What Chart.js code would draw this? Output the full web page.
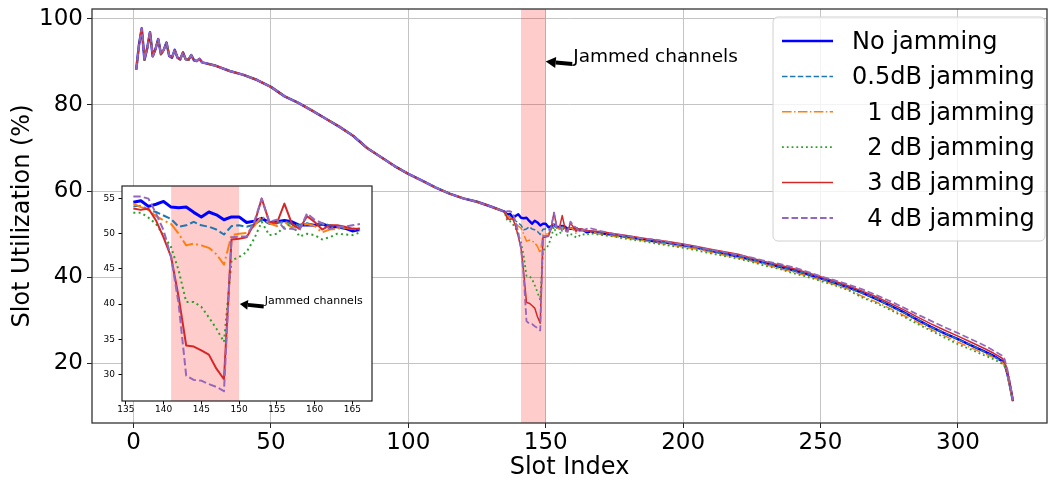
<!DOCTYPE html>
<html>
<head>
<meta charset="utf-8">
<script src="https://cdn.jsdelivr.net/npm/chart.js@4.4.0/dist/chart.umd.min.js"></script>
<style>
  body { margin: 0; background: #fff; }
  #wrap { position: relative; width: 1049px; height: 480px; }
  #mainChart { position: absolute; left: 0; top: 0; }
  #insetChart { position: absolute; left: 92px; top: 183px; }
</style>
</head>
<body>
<div id="wrap">
  <canvas id="mainChart" width="1049" height="480"></canvas>
  <canvas id="insetChart" width="285" height="235"></canvas>
</div>
<script>
// ---- data ----
// slots before the jammed window: all six curves sit on top of each other here
const headSlots = [1, 2, 3, 4, 5, 6, 7, 8, 9, 10, 11, 12, 13, 14, 15, 16, 17, 18, 19, 20, 21, 22, 23, 24, 25,
  30, 35, 40, 45, 50, 55, 60, 65, 70, 75, 80, 85, 90, 95, 100, 105, 110, 115, 120, 125, 130, 135];
const headUtil = [88.2, 94.0, 97.8, 90.5, 93.2, 96.9, 91.3, 93.0, 95.3, 91.8, 92.8, 94.5, 91.4, 91.0, 92.8, 91.0, 90.6, 92.2, 90.6, 90.5, 91.6, 90.4, 90.2, 90.7, 89.9,
  89.1, 87.9, 87.0, 85.8, 84.2, 82.0, 80.5, 78.7, 76.8, 74.9, 72.8, 70.0, 67.9, 65.8, 64.0, 62.4, 60.8, 59.4, 58.3, 57.5, 56.4, 55.2];

// zoomed window (also used in the main plot)
const insetSlots = [136, 137, 138, 139, 140, 141, 142, 143, 144, 145, 146, 147, 148, 149, 150, 151,
  152, 153, 154, 155, 156, 157, 158, 159, 160, 161, 162, 163, 164, 165, 166];
const insetNoJam = [54.5, 54.7, 53.9, 54.2, 54.6, 53.8, 53.7, 53.8, 53.05, 52.4, 53.1, 52.7, 52.0, 52.4, 52.4, 51.6,
  51.8, 52.2, 51.6, 51.7, 51.9, 51.7, 51.2, 51.3, 51.2, 51.4, 51.0, 51.0, 50.8, 50.4, 50.6];
const insetJam05 = [53.9, 54.0, 53.4, 53.1, 52.6, 52.1, 51.0, 51.2, 51.7, 51.2, 51.0, 50.6, 49.9, 51.1, 51.2, 51.0,
  51.3, 52.0, 51.4, 51.5, 51.8, 51.4, 51.2, 51.5, 51.2, 51.5, 51.2, 51.0, 50.8, 50.7, 50.7];
const insetJam1 = [54.3, 53.8, 53.4, 52.5, 51.9, 51.4, 50.0, 48.35, 48.6, 48.35, 48.0, 47.1, 45.6, 49.8, 50.0, 50.1,
  51.1, 52.5, 51.5, 51.1, 51.7, 50.9, 51.1, 51.4, 51.1, 50.2, 50.6, 50.7, 50.9, 50.7, 50.5];
const insetJam2 = [53.0, 53.0, 52.3, 51.4, 49.8, 48.1, 44.8, 40.3, 40.3, 39.6, 38.1, 36.5, 34.6, 46.2, 46.7, 47.4,
  49.3, 51.7, 49.8, 50.0, 51.0, 51.4, 49.6, 50.0, 49.8, 49.2, 49.5, 50.0, 49.9, 49.8, 50.2];
const insetJam3 = [53.6, 53.4, 53.6, 51.9, 49.5, 46.7, 41.0, 34.1, 33.95, 33.4, 32.8, 30.8, 29.3, 49.2, 49.3, 49.5,
  51.4, 55.0, 51.7, 51.5, 54.3, 51.4, 50.7, 52.5, 51.7, 50.6, 51.2, 51.2, 51.0, 50.7, 50.7];
const insetJam4 = [55.3, 55.3, 55.0, 52.9, 50.5, 46.7, 40.0, 29.8, 29.2, 29.1, 28.6, 28.2, 27.6, 49.5, 49.6, 49.6,
  51.7, 55.0, 51.7, 52.0, 50.7, 50.7, 50.5, 52.9, 52.0, 51.5, 50.7, 51.0, 51.0, 51.2, 51.4];

// slots after the jammed window
const tailSlots = [170, 175, 180, 185, 190, 195, 200, 205, 210, 215, 220, 225, 230, 235, 240, 245, 250, 255,
  260, 265, 270, 275, 280, 285, 290, 295, 300, 305, 310, 313, 316, 317, 318, 319, 320];
const tailNoJam = [50.2, 49.8, 49.3, 48.8, 48.3, 47.9, 47.4, 46.8, 46.1, 45.5, 44.8, 44.0, 43.2, 42.4, 41.6, 40.7, 39.7, 38.7,
  37.6, 36.4, 35.0, 33.5, 31.9, 30.2, 28.5, 27.0, 25.6, 24.1, 22.6, 21.7, 20.5, 19.7, 17.6, 14.6, 11.2];
const tailJam05 = [50.4, 49.9, 49.2, 48.9, 48.4, 47.8, 47.5, 46.7, 46.2, 45.4, 44.9, 44.1, 43.1, 42.5, 41.5, 40.8, 39.6, 38.8,
  37.5, 36.3, 35.1, 33.4, 31.8, 30.3, 28.4, 27.1, 25.5, 24.2, 22.5, 21.6, 20.4, 19.6, 17.5, 14.5, 11.1];
const tailJam1 = [50.0, 49.5, 49.0, 48.5, 48.0, 47.5, 47.0, 46.5, 45.8, 45.1, 44.5, 43.7, 42.9, 42.0, 41.2, 40.3, 39.3, 38.3,
  37.2, 35.6, 34.3, 32.8, 31.2, 29.6, 27.9, 26.4, 24.9, 23.5, 22.1, 21.3, 20.2, 19.4, 17.3, 14.3, 11.0];
const tailJam2 = [49.8, 49.4, 48.8, 48.4, 47.8, 47.3, 46.8, 46.2, 45.5, 44.9, 44.3, 43.5, 42.6, 41.9, 40.9, 40.1, 39.1, 38.1,
  37.0, 35.3, 34.0, 32.5, 30.9, 29.2, 27.6, 26.0, 24.4, 23.1, 21.7, 20.9, 19.9, 19.2, 17.1, 14.2, 10.9];
const tailJam3 = [50.6, 50.1, 49.6, 49.1, 48.6, 48.2, 47.7, 47.1, 46.5, 45.9, 45.3, 44.4, 43.6, 42.8, 42.0, 41.1, 40.1, 39.1,
  38.0, 36.8, 35.5, 34.0, 32.5, 30.8, 29.2, 27.7, 26.3, 24.8, 23.3, 22.3, 21.2, 20.3, 18.0, 14.9, 11.3];
const tailJam4 = [50.7, 50.0, 49.5, 49.0, 48.7, 48.1, 47.6, 47.0, 46.3, 45.8, 45.2, 44.5, 43.7, 43.1, 42.3, 41.3, 40.2, 39.3,
  38.3, 37.2, 35.9, 34.5, 33.0, 31.4, 29.9, 28.4, 27.0, 25.5, 24.0, 22.9, 21.8, 20.9, 18.5, 15.2, 11.4];

const seriesLabels = ['No jamming', '0.5dB jamming', '  1 dB jamming', '  2 dB jamming', '  3 dB jamming', '  4 dB jamming'];
const insetSeries = [insetNoJam, insetJam05, insetJam1, insetJam2, insetJam3, insetJam4];
const tailSeries = [tailNoJam, tailJam05, tailJam1, tailJam2, tailJam3, tailJam4];

const mainXTicks = [0, 50, 100, 150, 200, 250, 300];
const mainYTicks = [20, 40, 60, 80, 100];
const insetXTicks = [135, 140, 145, 150, 155, 160, 165];
const insetYTicks = [30, 35, 40, 45, 50, 55];
const jamStart = 141;
const jamEnd = 150;

// ---- styling ----
const FONT = '"DejaVu Sans", sans-serif';
const mainStyles = [
  { color: '#0000ff', width: 2.5, dash: [] },
  { color: '#1f77b4', width: 1.5, dash: [5.5, 2.4] },
  { color: '#ff7f0e', width: 1.5, dash: [9.6, 2.4, 1.5, 2.4] },
  { color: '#2ca02c', width: 1.8, dash: [1.8, 3] },
  { color: '#d62728', width: 1.5, dash: [] },
  { color: '#9467bd', width: 1.8, dash: [6.6, 2.9] },
];
const insetStyles = [
  { color: '#0000ff', width: 3, dash: [] },
  { color: '#1f77b4', width: 2, dash: [7.4, 3.2] },
  { color: '#ff7f0e', width: 2, dash: [12.8, 3.2, 2, 3.2] },
  { color: '#2ca02c', width: 2, dash: [2, 3.3] },
  { color: '#d62728', width: 2, dash: [] },
  { color: '#9467bd', width: 2, dash: [7.4, 3.2] },
];

function setTicks(list) {
  return axis => { axis.ticks = list.map(v => ({ value: v })); };
}

// pink band over the jammed channels
const jamShade = {
  id: 'jamShade',
  beforeDatasetsDraw(chart) {
    const { ctx, chartArea, scales: { x } } = chart;
    const l = x.getPixelForValue(jamStart), r = x.getPixelForValue(jamEnd);
    ctx.save();
    ctx.fillStyle = 'rgba(255, 0, 0, 0.2)';
    ctx.fillRect(l, chartArea.top, r - l, chartArea.bottom - chartArea.top);
    ctx.restore();
  }
};

// box around the axes
const frame = {
  id: 'frame',
  afterDatasetsDraw(chart, args, opts) {
    const { ctx, chartArea: a } = chart;
    ctx.save();
    ctx.strokeStyle = opts.color;
    ctx.lineWidth = opts.width;
    ctx.strokeRect(a.left, a.top, a.right - a.left, a.bottom - a.top);
    ctx.restore();
  }
};

// white plot area for the inset (rest of its canvas stays transparent)
const insetBg = {
  id: 'insetBg',
  beforeDraw(chart) {
    const { ctx, chartArea: a } = chart;
    ctx.save();
    ctx.fillStyle = '#fff';
    ctx.fillRect(a.left, a.top, a.right - a.left, a.bottom - a.top);
    ctx.restore();
  }
};

// "Jammed channels" text with a black arrow
const arrowNote = {
  id: 'arrowNote',
  afterDatasetsDraw(chart, args, o) {
    const { ctx, scales: { x, y } } = chart;
    const tx = x.getPixelForValue(o.textX), ty = y.getPixelForValue(o.textY);
    const hx = x.getPixelForValue(o.headX), hy = y.getPixelForValue(o.headY);
    ctx.save();
    ctx.font = o.font;
    ctx.fillStyle = '#000';
    ctx.textBaseline = 'alphabetic';
    ctx.fillText(o.text, tx, ty);
    const sx = tx - 1, sy = ty + o.tailDrop;
    const ang = Math.atan2(hy - sy, hx - sx);
    const bx = hx - Math.cos(ang) * o.headLen, by = hy - Math.sin(ang) * o.headLen;
    ctx.strokeStyle = '#000';
    ctx.lineWidth = o.shaft;
    ctx.beginPath();
    ctx.moveTo(sx, sy);
    ctx.lineTo(bx, by);
    ctx.stroke();
    ctx.beginPath();
    ctx.moveTo(hx, hy);
    ctx.lineTo(bx + Math.sin(ang) * o.headHalf, by - Math.cos(ang) * o.headHalf);
    ctx.lineTo(bx - Math.sin(ang) * o.headHalf, by + Math.cos(ang) * o.headHalf);
    ctx.closePath();
    ctx.fill();
    ctx.restore();
  }
};

// matplotlib-like legend box in the upper right
const boxLegend = {
  id: 'boxLegend',
  afterDraw(chart, args, o) {
    const { ctx } = chart;
    ctx.save();
    ctx.beginPath();
    ctx.roundRect(o.left, o.top, o.width, o.height, 5);
    ctx.fillStyle = 'rgba(255,255,255,0.8)';
    ctx.fill();
    ctx.strokeStyle = '#d0d0d0';
    ctx.lineWidth = 1;
    ctx.stroke();
    chart.data.datasets.forEach((ds, i) => {
      const yy = o.firstRow + i * o.rowGap;
      ctx.strokeStyle = ds.borderColor;
      ctx.lineWidth = ds.borderWidth;
      ctx.setLineDash(ds.borderDash);
      ctx.beginPath();
      ctx.moveTo(o.lineX0, yy);
      ctx.lineTo(o.lineX1, yy);
      ctx.stroke();
      ctx.setLineDash([]);
      ctx.fillStyle = '#000';
      ctx.font = '24px ' + FONT;
      ctx.textBaseline = 'middle';
      ctx.fillText(ds.label, o.textX, yy + 1.5);
    });
    ctx.restore();
  }
};

function buildMainData(i) {
  return headSlots.map((x, k) => ({ x, y: headUtil[k] }))
    .concat(insetSlots.map((x, k) => ({ x, y: insetSeries[i][k] })))
    .concat(tailSlots.map((x, k) => ({ x, y: tailSeries[i][k] })));
}

const mainDatasets = seriesLabels.map((label, i) => ({
  label: label,
  data: buildMainData(i),
  borderColor: mainStyles[i].color,
  borderWidth: mainStyles[i].width,
  borderDash: mainStyles[i].dash,
  borderJoinStyle: 'round',
  pointRadius: 0,
  tension: 0,
  order: seriesLabels.length - 1 - i
}));

new Chart(document.getElementById('mainChart'), {
  type: 'line',
  data: { datasets: mainDatasets },
  options: {
    responsive: false,
    animation: false,
    events: [],
    layout: { padding: { top: 9, right: 2, left: 0, bottom: 0 } },
    scales: {
      x: {
        type: 'linear', min: -15.1, max: 332.4,
        afterBuildTicks: setTicks(mainXTicks),
        afterFit: a => { a.height = 57; a.paddingLeft = 0; a.paddingRight = 0; },
        grid: { color: '#c4c4c4', lineWidth: 1, tickLength: 5, tickColor: '#222' },
        border: { display: false },
        ticks: { autoSkip: false, maxRotation: 0, padding: 1, color: '#000', font: { family: FONT, size: 23 } },
        title: { display: true, text: 'Slot Index', color: '#000', font: { family: FONT, size: 24, lineHeight: 1 }, padding: { top: 2, bottom: 0 } }
      },
      y: {
        type: 'linear', min: 6.1, max: 102.3,
        afterBuildTicks: setTicks(mainYTicks),
        afterFit: a => { a.width = 92; a.paddingTop = 0; a.paddingBottom = 0; },
        grid: { color: '#c4c4c4', lineWidth: 1, tickLength: 5, tickColor: '#222' },
        border: { display: false },
        ticks: { autoSkip: false, padding: 4, color: '#000', font: { family: FONT, size: 23 } },
        title: { display: true, text: 'Slot Utilization (%)', color: '#000', font: { family: FONT, size: 24 }, padding: { top: 8, bottom: 0 } }
      }
    },
    plugins: {
      legend: { display: false },
      tooltip: { enabled: false },
      frame: { color: '#333', width: 1.3 },
      arrowNote: { text: 'Jammed channels', textX: 160, textY: 90, headX: 150, headY: 90.1,
        font: '18.5px ' + FONT, tailDrop: 2, shaft: 4, headLen: 10, headHalf: 5.5 },
      boxLegend: { left: 773, top: 17, width: 272, height: 224, firstRow: 41, rowGap: 35.4,
        lineX0: 782, lineX1: 833, textX: 852 }
    }
  },
  plugins: [jamShade, frame, arrowNote, boxLegend]
});

const insetDatasets = seriesLabels.map((label, i) => ({
  label: label,
  data: insetSlots.map((x, k) => ({ x, y: insetSeries[i][k] })),
  borderColor: insetStyles[i].color,
  borderWidth: insetStyles[i].width,
  borderDash: insetStyles[i].dash,
  borderJoinStyle: 'round',
  pointRadius: 0,
  tension: 0,
  order: seriesLabels.length - 1 - i
}));

new Chart(document.getElementById('insetChart'), {
  type: 'line',
  data: { datasets: insetDatasets },
  options: {
    responsive: false,
    animation: false,
    events: [],
    layout: { padding: { top: 3, right: 5, left: 0, bottom: 0 } },
    scales: {
      x: {
        type: 'linear', min: 134.5, max: 167.6,
        afterBuildTicks: setTicks(insetXTicks),
        afterFit: a => { a.height = 17; a.paddingLeft = 0; a.paddingRight = 0; },
        grid: { drawOnChartArea: false, tickLength: 3.5, tickColor: '#000' },
        border: { display: false },
        ticks: { autoSkip: false, maxRotation: 0, padding: 0, color: '#000', font: { family: FONT, size: 9 } }
      },
      y: {
        type: 'linear', min: 26.2, max: 56.8,
        afterBuildTicks: setTicks(insetYTicks),
        afterFit: a => { a.width = 30; a.paddingTop = 0; a.paddingBottom = 0; },
        grid: { drawOnChartArea: false, tickLength: 3.5, tickColor: '#000' },
        border: { display: false },
        ticks: { autoSkip: false, padding: 3.5, color: '#000', font: { family: FONT, size: 9 } }
      }
    },
    plugins: {
      legend: { display: false },
      tooltip: { enabled: false },
      frame: { color: '#222', width: 1.2 },
      arrowNote: { text: 'Jammed channels', textX: 153.4, textY: 40.0, headX: 150.1, headY: 40.0,
        font: '11px ' + FONT, tailDrop: 2.5, shaft: 4, headLen: 8, headHalf: 5 }
    }
  },
  plugins: [insetBg, jamShade, frame, arrowNote]
});
</script>
</body>
</html>
